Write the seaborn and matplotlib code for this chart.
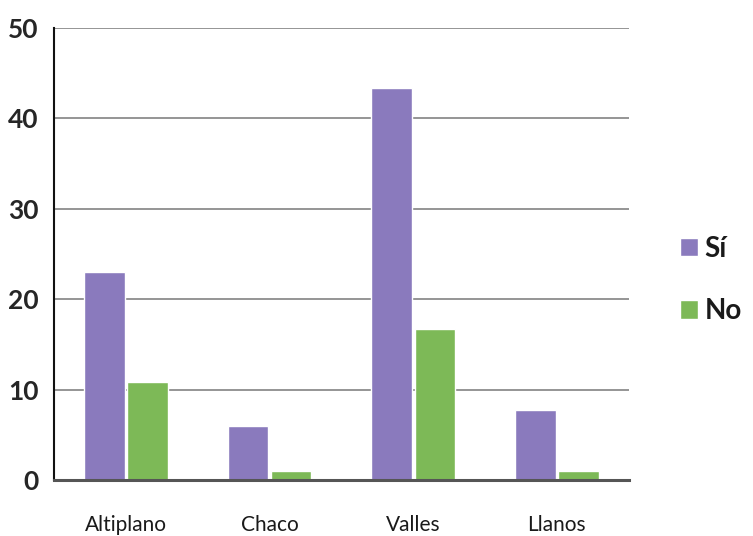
import matplotlib
matplotlib.use("Agg")
import matplotlib.pyplot as plt
import seaborn as sns
import pandas as pd

regiones = ["Altiplano", "Chaco", "Valles", "Llanos"]
si = [23.0, 6.0, 43.4, 7.7]
no = [10.8, 1.0, 16.7, 1.0]
series = ["Sí", "No"]
colores = ["#8a7abd", "#7db957"]

df = pd.DataFrame({
    "region": regiones * 2,
    "valor": si + no,
    "respuesta": [series[0]] * len(regiones) + [series[1]] * len(regiones),
})

sns.set_style("white")
plt.rcParams["font.family"] = ["Lato", "DejaVu Sans"]

fig = plt.figure(figsize=(7.53, 5.36), dpi=100)
ax = fig.add_axes([0.0717, 0.1045, 0.7633, 0.8435])

sns.barplot(data=df, x="region", y="valor", hue="respuesta",
            palette=colores, width=0.6, gap=0.06, saturation=1,
            ax=ax, zorder=3)

ax.set_xlim(-0.5, 3.5)
ax.set_ylim(0, 50)
ax.set_yticks([0, 10, 20, 30, 40, 50])
ax.set_yticklabels(["0", "10", "20", "30", "40", "50"], fontweight="bold")
ax.yaxis.grid(True, color="#8c8c8c", linewidth=1.3, zorder=0)
ax.set_axisbelow(True)
ax.set_xlabel("")
ax.set_ylabel("")

for s in ["top", "right"]:
    ax.spines[s].set_visible(False)
ax.spines["left"].set_color("#111111")
ax.spines["left"].set_linewidth(1.5)
ax.spines["bottom"].set_color("#555555")
ax.spines["bottom"].set_linewidth(2.2)
ax.spines["bottom"].set_zorder(4)

ax.tick_params(axis="y", labelsize=19, length=0, pad=11, labelcolor="#262626")
ax.tick_params(axis="x", labelsize=15, length=0, pad=25, labelcolor="#1a1a1a")

leg = ax.legend(loc="center left", bbox_to_anchor=(1.045, 0.442), frameon=False,
                prop={"size": 20, "weight": "bold"},
                handlelength=0.65, handleheight=0.65,
                handletextpad=0.25, labelspacing=1.32)
for t in leg.get_texts():
    t.set_color("#1a1a1a")

fig.savefig("out.png", dpi=100)
